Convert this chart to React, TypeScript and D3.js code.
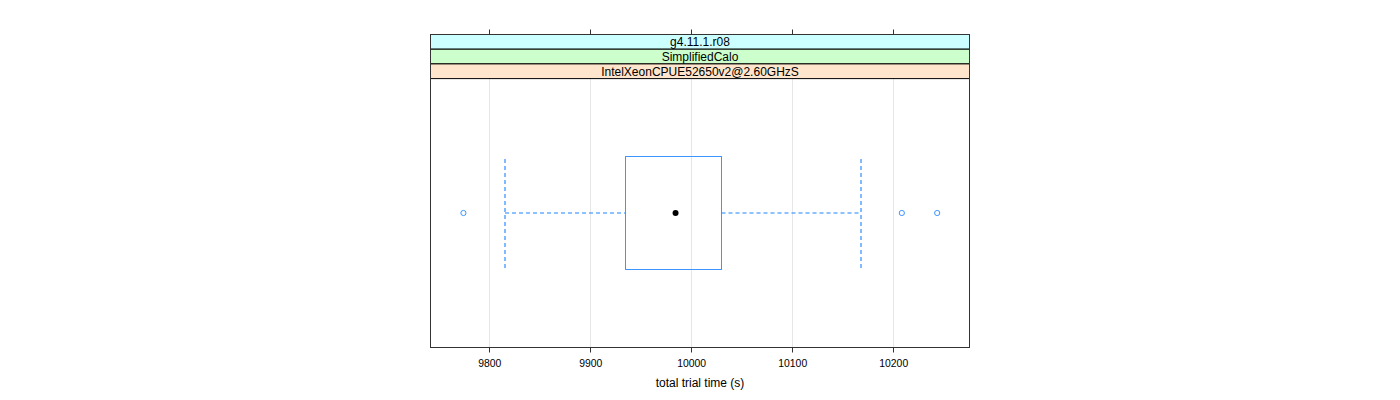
import React from 'react';
import * as d3 from 'd3';

// strip labels, top to bottom
const stripLabels = ['g4.11.1.r08', 'SimplifiedCalo', 'IntelXeonCPUE52650v2@2.60GHzS'];
const stripColors = ['#ccffff', '#ccffcc', '#ffe5cc'];

// box summary
const category = ['run'];
const lowerWhisker = [9815];
const lowerHinge = [9934];
const median = [9984];
const upperHinge = [10029];
const upperWhisker = [10168];
const outliers = [9774, 10208, 10243];

const xTicks = [9800, 9900, 10000, 10100, 10200];

// snap to half pixel so 1px lines stay crisp
const px = (v: number) => Math.round(v - 0.5) + 0.5;

const App: React.FC = () => {
  const width = 1400;
  const height = 400;
  const left = 430.5;
  const right = 969.5;
  const top = 34.5;
  const stripH = 14.7;
  const plotTop = top + stripH * stripLabels.length;
  const bottom = 347.5;

  const x = d3.scaleLinear().domain([9741.4, 10275]).range([left, right]);
  const y = d3.scaleBand<string>().domain(category).range([plotTop, bottom]).paddingInner(0).paddingOuter(0.69);

  const blue = '#3d96ff';
  const dash = '#1a85ff';
  const font = '"Liberation Sans", Arial, sans-serif';

  return (
    <svg width={width} height={height} style={{ position: 'absolute', left: 0, top: 0 }} fontFamily={font}>
      {/* grid */}
      {xTicks.map(t => (
        <line key={'g' + t} x1={px(x(t))} x2={px(x(t))} y1={plotTop} y2={bottom} stroke="#e6e6e6" />
      ))}

      {/* strips */}
      {stripLabels.map((s, i) => (
        <g key={s}>
          <rect x={left} y={top + i * stripH} width={right - left} height={stripH} fill={stripColors[i]} stroke="#000" strokeWidth={1} />
          <text x={(left + right) / 2} y={top + i * stripH + stripH - 3} textAnchor="middle" fontSize={12}>{s}</text>
        </g>
      ))}

      {category.map((c, i) => {
        const y0 = y(c)!;
        const bw = y.bandwidth();
        const cy = Math.round(y0 + bw / 2);
        const bx0 = px(x(lowerHinge[i]));
        const bx1 = px(x(upperHinge[i]));
        const wl = Math.round(x(lowerWhisker[i]));
        const wu = Math.round(x(upperWhisker[i]));
        return (
          <g key={c}>
            <line x1={wl} x2={bx0} y1={cy} y2={cy} stroke={dash} strokeWidth={1.1} strokeDasharray="4,3" />
            <line x1={bx1} x2={wu} y1={cy} y2={cy} stroke={dash} strokeWidth={1.1} strokeDasharray="4,3" />
            <line x1={wl} x2={wl} y1={Math.round(y0 + 2)} y2={Math.round(y0 + bw)} stroke={dash} strokeWidth={1.1} strokeDasharray="4,3" />
            <line x1={wu} x2={wu} y1={Math.round(y0 + 2)} y2={Math.round(y0 + bw)} stroke={dash} strokeWidth={1.1} strokeDasharray="4,3" />
            <rect x={bx0} y={px(y0)} width={bx1 - bx0} height={Math.round(bw)} fill="none" stroke={blue} />
            <circle cx={x(median[i])} cy={cy} r={3} fill="#000" />
            {outliers.map(o => (
              <circle key={o} cx={x(o)} cy={cy} r={2.6} fill="none" stroke={blue} />
            ))}
          </g>
        );
      })}

      {/* panel frame */}
      <rect x={left} y={top} width={right - left} height={bottom - top} fill="none" stroke="#333" />

      {/* ticks top & bottom */}
      {xTicks.map(t => (
        <g key={'t' + t}>
          <line x1={px(x(t))} x2={px(x(t))} y1={top} y2={top - 5} stroke="#333" />
          <line x1={px(x(t))} x2={px(x(t))} y1={bottom} y2={bottom + 5} stroke="#333" />
          <text x={x(t)} y={366.5} textAnchor="middle" fontSize={10.4}>{t}</text>
        </g>
      ))}

      <text x={(left + right) / 2} y={387} textAnchor="middle" fontSize={12}>total trial time (s)</text>
    </svg>
  );
};

export default App;
